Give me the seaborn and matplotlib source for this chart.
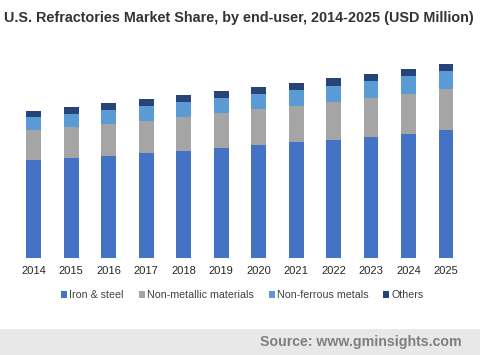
import numpy as np
import pandas as pd
import matplotlib as mpl
mpl.use('Agg')
import matplotlib.pyplot as plt
from matplotlib.patches import Patch, Rectangle
import seaborn as sns

years = ['2014', '2015', '2016', '2017', '2018', '2019',
         '2020', '2021', '2022', '2023', '2024', '2025']
iron_steel = [97.7, 99.7, 101.7, 104.7, 106.7, 109.7, 112.7, 115.7, 117.7, 120.7, 123.7, 127.7]
non_metallic = [30, 31, 32, 32, 34, 35, 36, 36, 38, 39, 40, 41]
non_ferrous = [13, 13, 14, 15, 15, 15, 15, 16, 16, 17, 18, 18]
others = [6, 7, 7, 7, 7, 7, 7, 7, 8, 7, 7, 7]

segments = ['Iron & steel', 'Non-metallic materials', 'Non-ferrous metals', 'Others']
colors = ['#4472C4', '#A5A5A5', '#5B9BD5', '#264478']

sns.set_theme(style='white')
plt.rcParams['font.family'] = ['Liberation Sans', 'DejaVu Sans']

df = pd.DataFrame({'year': years, segments[0]: iron_steel, segments[1]: non_metallic,
                   segments[2]: non_ferrous, segments[3]: others})
cum = df[segments].cumsum(axis=1)

fig = plt.figure(figsize=(4.8, 3.55), dpi=100)
ax = fig.add_axes([14.75 / 480, (355 - 257.7) / 355, 450 / 480, (257.7 - 50) / 355])

# draw stacks from the top down so each lower segment overlays the total
for seg, col in reversed(list(zip(segments, colors))):
    sns.barplot(x=df['year'], y=cum[seg], color=col, width=0.4, saturation=1,
                linewidth=0, edgecolor='none', ax=ax)

ax.set_ylim(0, 257.7 - 50)
ax.set_xlim(-0.5, 11.5)
ax.set_xlabel('')
ax.set_ylabel('')
ax.set_yticks([])
sns.despine(ax=ax, left=True, bottom=True)
ax.tick_params(axis='x', length=0, labelsize=8, labelcolor='#262626', pad=6)

fig.text(0.008, 0.95, 'U.S. Refractories Market Share, by end-user, 2014-2025 (USD Million)',
         fontsize=10.4, fontweight='bold', color='#333333', ha='left', va='center')

handles = [Patch(facecolor=c, edgecolor='none', label=s) for s, c in zip(segments, colors)]
fig.legend(handles=handles, loc='center', bbox_to_anchor=(0.505, 0.168), ncol=4, frameon=False,
           fontsize=7.7, handlelength=0.55, handleheight=0.55, handletextpad=0.2,
           columnspacing=1.4, labelcolor='#404040')

fig.patches.append(Rectangle((0, 0), 1, (355 - 329) / 355, transform=fig.transFigure,
                             facecolor='#e8e8e8', edgecolor='none', zorder=0))
fig.text(0.962, (355 - 342) / 355, 'Source: www.gminsights.com', fontsize=10.2,
         fontweight='bold', color='#7f7f7f', ha='right', va='center')

fig.savefig('out.png', dpi=100)
